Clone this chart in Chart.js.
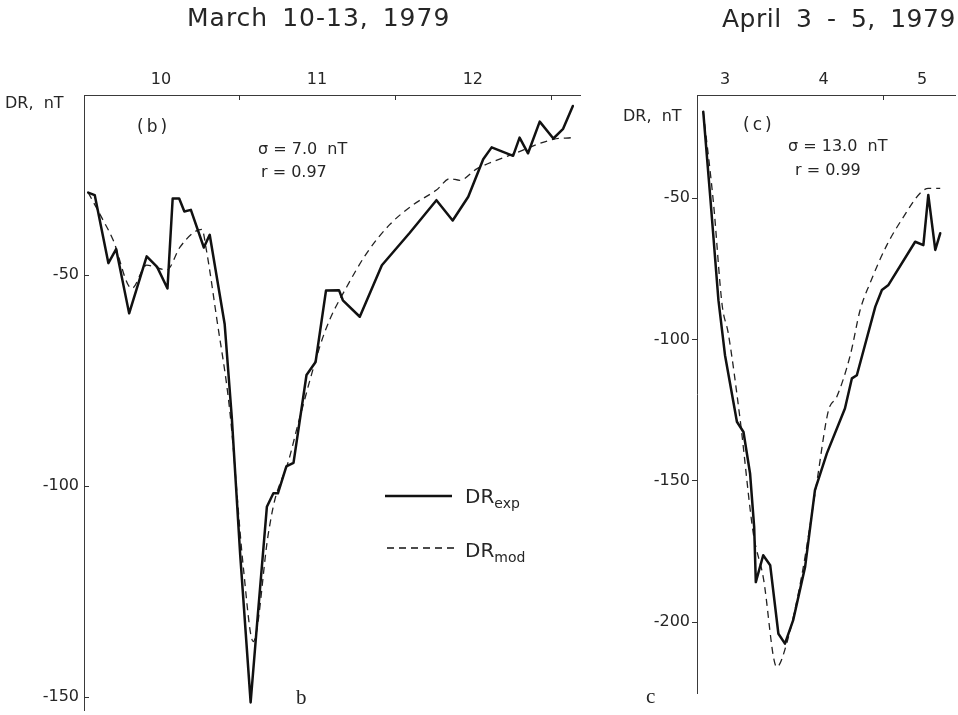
<!DOCTYPE html>
<html>
<head>
<meta charset="utf-8">
<script src="https://cdn.jsdelivr.net/npm/chart.js@4.4.1/dist/chart.umd.min.js"></script>
<style>
  html, body { margin: 0; padding: 0; background: #fff; }
  body { width: 958px; height: 715px; position: relative; overflow: hidden;
         font-family: "DejaVu Sans", sans-serif; color: #262626; }
  .panel { position: absolute; top: 0; height: 715px; }
  .t { position: absolute; white-space: pre; line-height: 20px; }
  .title { font-size: 25px; line-height: 30px; letter-spacing: 1px; word-spacing: 5px; }
  .title.narrow { letter-spacing: 0.5px; word-spacing: 6px; }
  .note { font-size: 16px; }
  .paren { font-size: 17px; letter-spacing: 3px; }
  .serif { font-family: "Liberation Serif", serif; font-size: 21px; }
  .leg { font-size: 20px; }
  .leg sub { font-size: 14px; vertical-align: -5px; }
</style>
</head>
<body>
<div class="panel" style="left:0;width:600px"><canvas id="march"></canvas></div>
<div class="panel" style="left:600px;width:358px"><canvas id="april"></canvas></div>

<div class="t title" style="left:187px;top:3px">March 10-13, 1979</div>
<div class="t title narrow" style="left:722px;top:4px">April 3 - 5, 1979</div>

<div class="t note" style="left:5px;top:93px">DR,  nT</div>
<div class="t paren" style="left:137px;top:116px">(b)</div>
<div class="t note" style="left:258px;top:139px">σ = 7.0  nT</div>
<div class="t note" style="left:261px;top:162px">r = 0.97</div>
<div class="t serif" style="left:296px;top:687px">b</div>

<svg style="position:absolute;left:380px;top:485px" width="85" height="75">
  <line x1="5" y1="11" x2="72" y2="11" stroke="#111" stroke-width="2.5"/>
  <line x1="7" y1="63" x2="77" y2="63" stroke="#111" stroke-width="1.3" stroke-dasharray="7,5"/>
</svg>
<div class="t leg" style="left:465px;top:486px">DR<sub>exp</sub></div>
<div class="t leg" style="left:465px;top:540px">DR<sub>mod</sub></div>

<div class="t note" style="left:623px;top:106px">DR,  nT</div>
<div class="t paren" style="left:743px;top:114px">(c)</div>
<div class="t note" style="left:788px;top:136px">σ = 13.0  nT</div>
<div class="t note" style="left:795px;top:160px">r = 0.99</div>
<div class="t serif" style="left:646px;top:686px">c</div>

<script>
// March 10-13, 1979: hours counted from 00 UT on March 10
const marchExpHours = [0.8, 1.8, 3.9, 5.1, 7.1, 9.8, 11.4, 13.0, 13.8, 14.8, 15.6, 16.6, 18.6, 19.5,
  21.8, 22.9, 24.2, 25.8, 26.7, 28.3, 29.3, 30.0, 31.3, 32.4, 34.4, 35.8, 37.4, 39.4, 40.0, 42.6,
  46.0, 50.3, 54.4, 56.9, 59.3, 61.6, 62.9, 66.2, 67.2, 68.5, 70.3, 72.4, 73.9, 75.4];
const marchExpDR = [-30.5, -31.1, -47.2, -43.9, -59.1, -45.6, -48.1, -53.2, -31.9, -31.9, -35.0, -34.6, -43.5, -40.5,
  -61.6, -83.7, -116.4, -151.2, -134.3, -104.9, -101.7, -101.7, -95.3, -94.5, -73.7, -70.6, -53.7, -53.6, -56.0, -59.9,
  -47.7, -40.0, -32.3, -37.1, -31.5, -22.6, -19.8, -21.8, -17.5, -21.2, -13.7, -17.7, -15.4, -10.0];
const marchModHours = [0.8, 2.9, 4.6, 7.5, 9.8, 12.9, 14.9, 17.0, 18.3, 19.0, 20.6, 22.6, 24.7, 26.2,
  28.5, 29.5, 31.6, 33.1, 36.5, 38.0, 40.6, 43.6, 47.2, 50.8, 54.4, 56.5, 58.0, 60.6, 66.2, 72.4, 75.2];
const marchModDR = [-30.5, -36.5, -41.6, -53.2, -47.7, -48.8, -43.5, -40.0, -39.2, -44.2, -60.5, -82.3, -119.6, -136.8,
  -111.5, -103.4, -94.2, -85.3, -66.7, -60.5, -52.8, -45.0, -38.1, -33.4, -29.9, -27.2, -27.6, -24.9, -21.4, -17.9, -17.5];
const marchDayLabels = ['10', '11', '12'];
const marchLabelHours = [12, 36, 60];
const marchDayBoundaries = [24, 48, 72];
const marchYTicks = [-50, -100, -150];

// April 3-5, 1979: hours counted from 00 UT on April 3
const aprilExpHours = [6.7, 8.4, 10.4, 12.0, 14.9, 16.5, 18.1, 19.1, 19.5, 21.3, 23.0, 25.0, 26.6, 28.6,
  31.5, 33.9, 36.8, 41.2, 42.9, 44.1, 48.6, 50.2, 51.8, 58.3, 60.3, 61.5, 63.2, 64.4];
const aprilExpDR = [-19.3, -49.4, -86.1, -105.6, -129.2, -132.8, -147.5, -166.5, -186.0, -176.5, -180.0, -204.3, -207.8, -199.5,
  -180.6, -153.4, -140.4, -124.5, -113.8, -112.7, -88.4, -82.5, -80.7, -65.4, -66.6, -48.8, -68.3, -62.4];
const aprilModHours = [6.7, 9.2, 11.3, 12.8, 15.7, 18.9, 21.3, 24.6, 27.0, 30.7, 34.3, 37.2, 39.2, 42.5,
  44.9, 47.3, 51.4, 55.5, 59.5, 61.5, 64.4];
const aprilModDR = [-19.3, -51.8, -87.8, -97.9, -128.6, -168.8, -184.2, -216.1, -207.8, -183.6, -151.1, -125.1, -120.4, -105.6,
  -89.6, -80.1, -66.6, -56.5, -48.2, -46.5, -46.5];
const aprilDayLabels = ['3', '4', '5'];
const aprilLabelHours = [12, 36, 60];
const aprilDayBoundaries = [50.5];
const aprilYTicks = [-50, -100, -150, -200];

const pairs = (xs, ys) => xs.map((x, i) => ({ x, y: ys[i] }));
const tickFont = { family: 'DejaVu Sans', size: 16 };
const axisBorder = { display: true, color: '#3a3a3a', width: 1, dash: [22, 3, 2, 3] };

// short tick marks drawn against the axis lines
const axisMarks = {
  id: 'axisMarks',
  afterDraw(chart, args, opts) {
    const { ctx, chartArea: a, scales: { x, y } } = chart;
    ctx.save();
    ctx.strokeStyle = '#333';
    ctx.lineWidth = 1;
    ctx.beginPath();
    for (const v of opts.yTicks) {
      const py = Math.round(y.getPixelForValue(v)) + 0.5;
      ctx.moveTo(a.left + opts.yFrom, py);
      ctx.lineTo(a.left + opts.yTo, py);
    }
    for (const v of opts.xTicks) {
      const px = Math.round(x.getPixelForValue(v)) + 0.5;
      ctx.moveTo(px, a.top);
      ctx.lineTo(px, a.top + 5);
    }
    ctx.stroke();
    ctx.restore();
  }
};

function makeChart(id, cfg) {
  return new Chart(document.getElementById(id), {
    type: 'line',
    data: {
      datasets: [
        { label: 'DR exp', data: pairs(cfg.expH, cfg.expV), borderColor: '#111', borderWidth: 2.5,
          pointRadius: 0, tension: 0, borderJoinStyle: 'round', borderCapStyle: 'round' },
        { label: 'DR mod', data: pairs(cfg.modH, cfg.modV), borderColor: '#222', borderWidth: 1.3,
          borderDash: [7, 5], pointRadius: 0, cubicInterpolationMode: 'monotone' }
      ]
    },
    options: {
      responsive: true,
      maintainAspectRatio: false,
      animation: false,
      devicePixelRatio: 1,
      layout: { padding: cfg.padding },
      plugins: {
        legend: { display: false },
        tooltip: { enabled: false },
        axisMarks: { yTicks: cfg.yTicks, xTicks: cfg.bounds, yFrom: cfg.yFrom, yTo: cfg.yTo }
      },
      scales: {
        x: {
          type: 'linear', position: 'top', min: cfg.xMin, max: cfg.xMax,
          afterFit: s => { s.height = 95; s.paddingLeft = 0; s.paddingRight = 0; },
          afterBuildTicks: s => { s.ticks = cfg.labelH.map(v => ({ value: v })); },
          ticks: { font: tickFont, color: '#262626', padding: 6, maxRotation: 0, autoSkip: false,
                   callback: (v) => cfg.labels[cfg.labelH.indexOf(v)] },
          grid: { display: false, drawTicks: false },
          border: axisBorder
        },
        y: {
          type: 'linear', min: cfg.yMin, max: cfg.yMax,
          afterFit: s => { s.width = cfg.yWidth; s.paddingTop = 0; s.paddingBottom = 0; },
          afterBuildTicks: s => { s.ticks = cfg.yTicks.map(v => ({ value: v })); },
          ticks: { font: tickFont, color: '#262626', padding: cfg.yPad, autoSkip: false,
                   callback: v => String(v) },
          grid: { display: false, drawTicks: false },
          border: axisBorder
        }
      }
    },
    plugins: [axisMarks]
  });
}

makeChart('march', {
  expH: marchExpHours, expV: marchExpDR, modH: marchModHours, modV: marchModDR,
  labels: marchDayLabels, labelH: marchLabelHours, bounds: marchDayBoundaries, yTicks: marchYTicks,
  xMin: 0.15, xMax: 76.5, yMin: -153, yMax: -7.4,
  padding: { left: 0, top: 0, right: 20, bottom: 5 }, yWidth: 84, yPad: 5, yFrom: 0, yTo: 5
});

makeChart('april', {
  expH: aprilExpHours, expV: aprilExpDR, modH: aprilModHours, modV: aprilModDR,
  labels: aprilDayLabels, labelH: aprilLabelHours, bounds: aprilDayBoundaries, yTicks: aprilYTicks,
  xMin: 5.18, xMax: 68.0, yMin: -225.3, yMax: -13.4,
  padding: { left: 0, top: 0, right: 3, bottom: 22 }, yWidth: 97, yPad: 7, yFrom: -5, yTo: 0
});
</script>
</body>
</html>
